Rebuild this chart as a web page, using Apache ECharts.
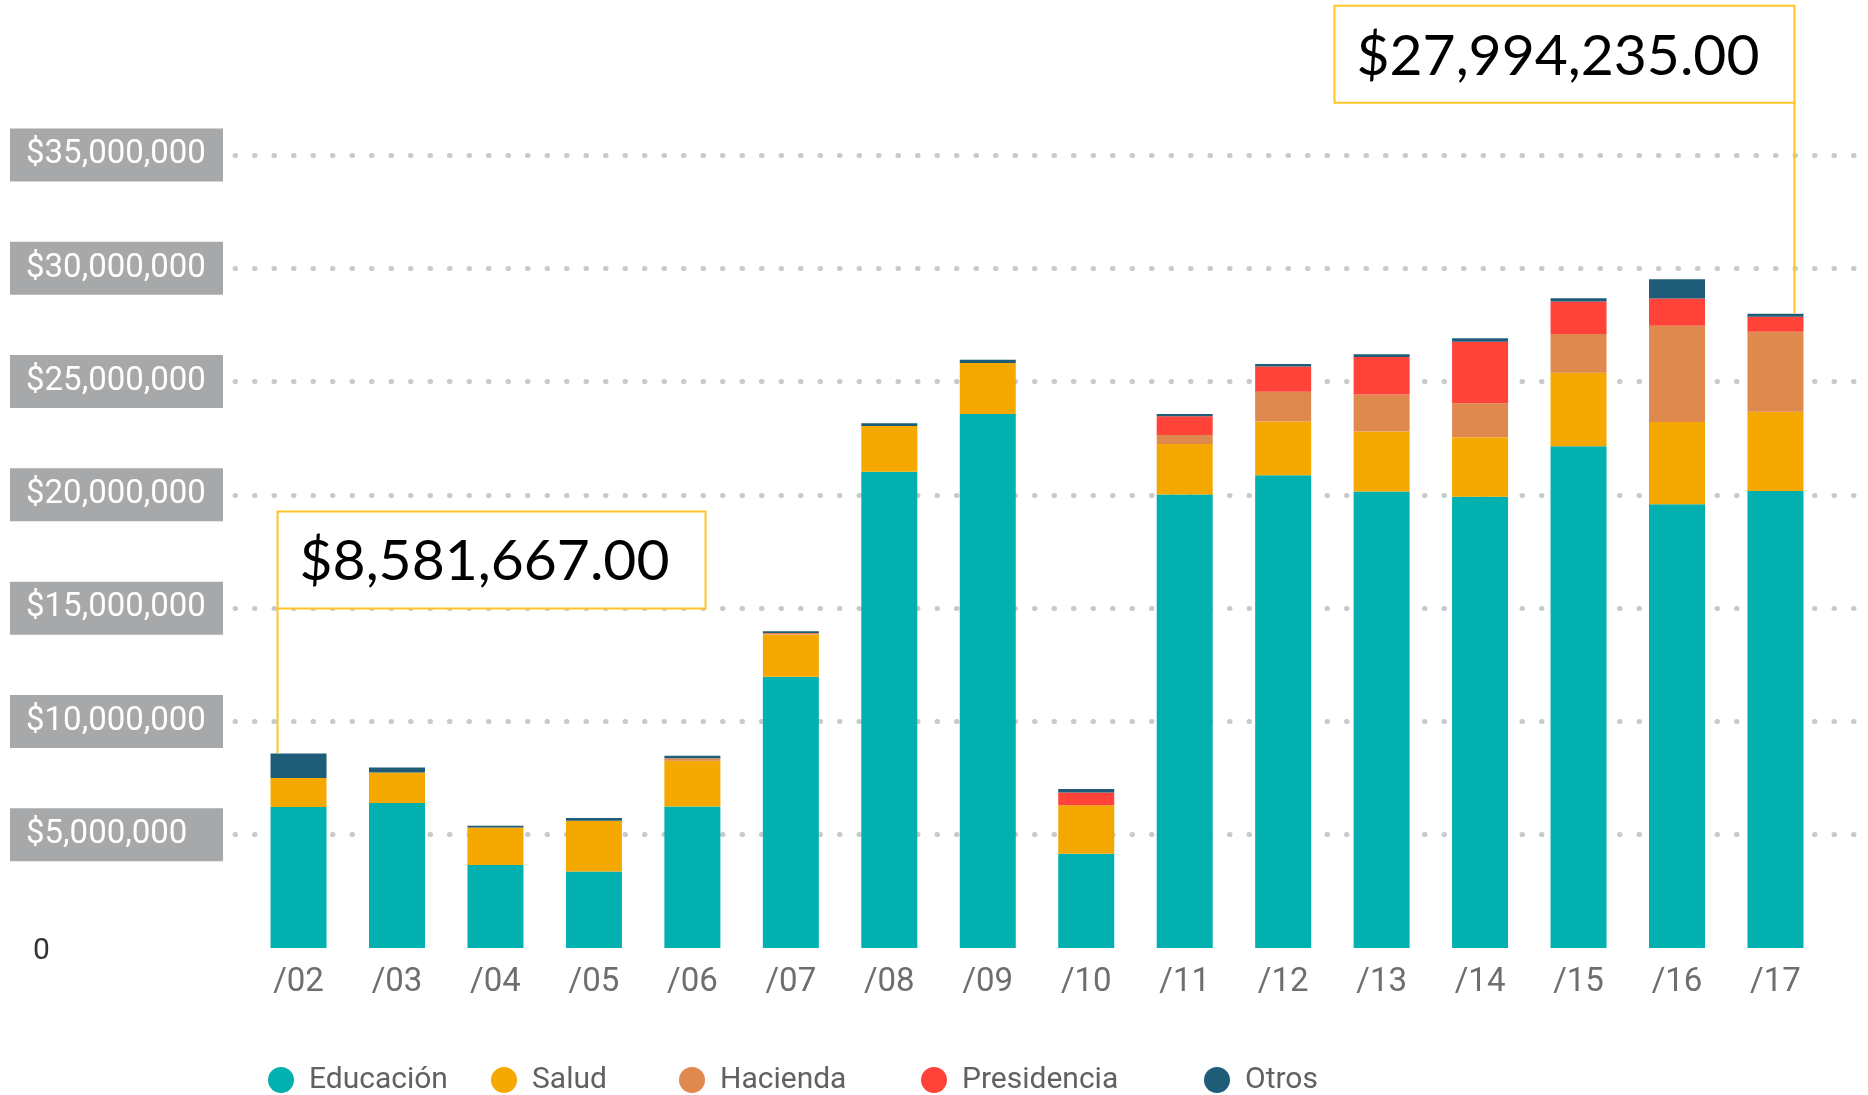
<!DOCTYPE html>
<html>
<head>
<meta charset="utf-8">
<script src="https://cdn.jsdelivr.net/npm/echarts@6/dist/echarts.min.js"></script>
<style>
  html, body { margin: 0; padding: 0; background: #fff; }
  #chart { width: 1868px; height: 1095px; }
</style>
</head>
<body>
<div id="chart"></div>
<script>
// valores en millones de pesos
var categories = ['/02', '/03', '/04', '/05', '/06', '/07', '/08', '/09', '/10', '/11', '/12', '/13', '/14', '/15', '/16', '/17'];
var educacion   = [6.22, 6.40, 3.66, 3.38, 6.25, 11.97, 21.02, 23.57, 4.16, 20.02, 20.87, 20.15, 19.92, 22.15, 19.59, 20.17];
var salud       = [1.28, 1.35, 1.66, 2.24, 2.02, 1.87, 2.02, 2.25, 2.14, 2.23, 2.37, 2.65, 2.62, 3.24, 3.63, 3.50];
var hacienda    = [0, 0, 0, 0, 0.10, 0.06, 0, 0, 0, 0.39, 1.31, 1.63, 1.50, 1.71, 4.24, 3.53];
var presidencia = [0, 0, 0, 0, 0, 0, 0, 0, 0.56, 0.83, 1.12, 1.66, 2.72, 1.43, 1.21, 0.66];
var otros       = [1.08, 0.22, 0.08, 0.12, 0.12, 0.08, 0.12, 0.14, 0.16, 0.10, 0.11, 0.12, 0.15, 0.15, 0.85, 0.13];

var calloutIndex = [0, 15];
var calloutTotal = [8.581667, 27.994235];
var calloutText = ['$8,581,667.00', '$27,994,235.00'];
var calloutSide = ['left', 'right'];

var colors = {
    'Educación': '#02b1af',
    'Salud': '#f5a800',
    'Hacienda': '#e0894f',
    'Presidencia': '#ff4338',
    'Otros': '#1f5c78'
};

var chart = echarts.init(document.getElementById('chart'));

function barSeries(name, data) {
    return {
        name: name,
        type: 'bar',
        stack: 'total',
        xAxisIndex: 1,
        yAxisIndex: 1,
        barWidth: 56,
        itemStyle: { color: colors[name] },
        data: data
    };
}

function legendAt(name, left) {
    return {
        data: [name],
        left: left,
        top: 1060,
        icon: 'circle',
        itemWidth: 26,
        itemHeight: 26,
        selectedMode: false,
        textStyle: {
            fontFamily: 'Roboto',
            fontSize: 30,
            color: '#606163',
            padding: [0, 0, 0, 10]
        }
    };
}

var labelFont = 'Roboto';

var option = {
    animation: false,
    color: ['#02b1af', '#f5a800', '#e0894f', '#ff4338', '#1f5c78'],
    legend: [
        legendAt('Educación', 263),
        legendAt('Salud', 486),
        legendAt('Hacienda', 674),
        legendAt('Presidencia', 916),
        legendAt('Otros', 1199)
    ],
    grid: [
        // lineas punteadas y etiquetas del eje
        { left: 235, right: 8, top: 155, bottom: 147 },
        // barras
        { left: 249.3, right: 43.3, top: 155, bottom: 147 }
    ],
    xAxis: [
        { type: 'value', gridIndex: 0, show: false, min: 0, max: 1 },
        {
            type: 'category',
            gridIndex: 1,
            data: categories,
            axisLine: { show: false },
            axisTick: { show: false },
            axisLabel: {
                margin: 18,
                fontFamily: labelFont,
                fontSize: 33,
                color: '#6d6e70'
            }
        }
    ],
    yAxis: [
        {
            type: 'value',
            gridIndex: 0,
            min: 0,
            max: 35,
            interval: 5,
            axisLine: { show: false },
            axisTick: { show: false },
            splitLine: {
                show: true,
                showMinLine: false,
                lineStyle: {
                    color: '#c8c9cb',
                    width: 5,
                    type: [0.5, 19],
                    cap: 'round'
                }
            },
            axisLabel: {
                margin: 12,
                formatter: function (v) {
                    if (v === 0) return '{z|0}';
                    return '{b|$' + (v * 1000000).toLocaleString('en-US') + '}';
                },
                rich: {
                    b: {
                        width: 197,
                        align: 'left',
                        backgroundColor: '#a7a8aa',
                        padding: [10, 0, 10, 16],
                        lineHeight: 32,
                        fontFamily: labelFont,
                        fontSize: 33,
                        color: '#ffffff'
                    },
                    z: {
                        width: 190,
                        align: 'left',
                        padding: [7, 0, 0, 23],
                        fontFamily: labelFont,
                        fontSize: 30,
                        color: '#333333'
                    }
                }
            }
        },
        { type: 'value', gridIndex: 1, min: 0, max: 35, show: false, splitLine: { show: false } }
    ],
    series: [
        barSeries('Educación', educacion),
        barSeries('Salud', salud),
        barSeries('Hacienda', hacienda),
        barSeries('Presidencia', presidencia),
        barSeries('Otros', otros),
        {
            type: 'custom',
            xAxisIndex: 1,
            yAxisIndex: 1,
            z: 10,
            data: calloutIndex.map(function (c, i) { return [c, calloutTotal[i]]; }),
            renderItem: function (params, api) {
                var i = params.dataIndex;
                var pt = api.coord([api.value(0), api.value(1)]);
                var side = calloutSide[i];
                var lineX, boxX, boxW, boxH, boxBottom;
                if (side === 'left') {
                    lineX = pt[0] - 21; boxW = 428; boxH = 97; boxX = lineX;
                    boxBottom = pt[1] - 145;
                } else {
                    lineX = pt[0] + 19; boxW = 460; boxH = 97; boxX = lineX - boxW;
                    boxBottom = pt[1] - 211;
                }
                var yellow = '#fcc526';
                return {
                    type: 'group',
                    children: [
                        {
                            type: 'line',
                            shape: { x1: lineX, y1: boxBottom, x2: lineX, y2: pt[1] },
                            style: { stroke: yellow, lineWidth: 2 }
                        },
                        {
                            type: 'rect',
                            shape: { x: boxX, y: boxBottom - boxH, width: boxW, height: boxH },
                            style: { fill: '#ffffff', stroke: yellow, lineWidth: 2 }
                        },
                        {
                            type: 'text',
                            style: {
                                x: boxX + 22,
                                y: boxBottom - boxH / 2 + 2,
                                text: calloutText[i],
                                fill: '#000000',
                                font: '57px Lato',
                                textAlign: 'left',
                                textVerticalAlign: 'middle'
                            }
                        }
                    ]
                };
            }
        }
    ]
};

chart.setOption(option);
</script>
</body>
</html>
